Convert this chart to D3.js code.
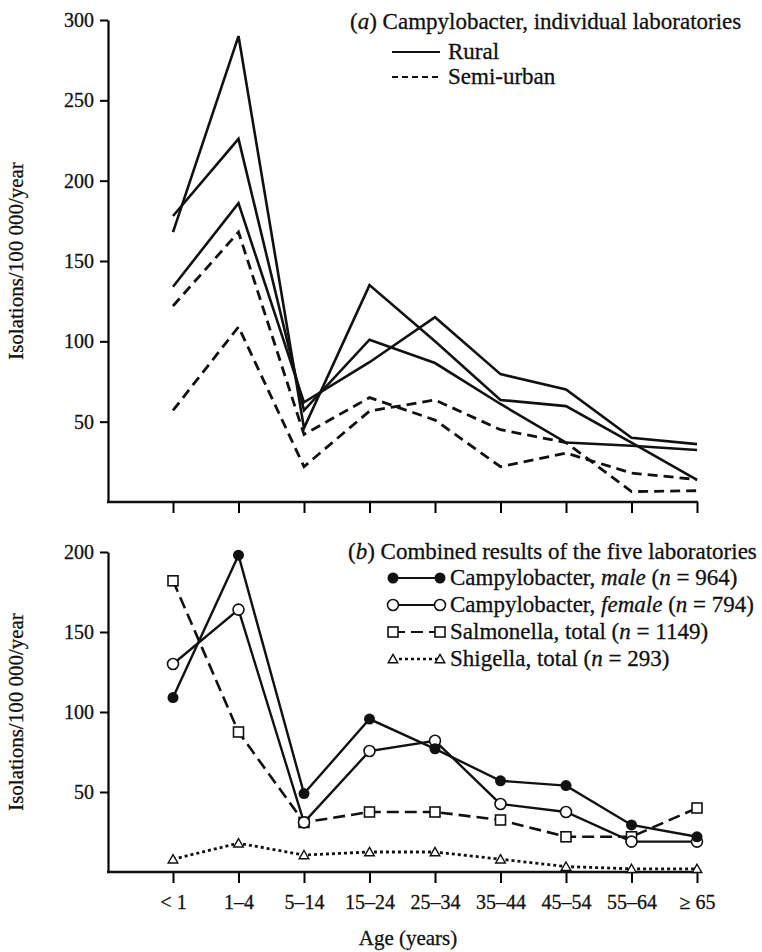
<!DOCTYPE html>
<html>
<head>
<meta charset="utf-8">
<script src="https://cdn.jsdelivr.net/npm/d3@7"></script>
<style>
  body { margin: 0; background: #fff; }
  text { font-family: "Liberation Serif", "Times New Roman", serif; fill: #111; stroke: #111; stroke-width: 0.3px; }
</style>
</head>
<body>
<div id="chart"></div>
<script>
const ageGroups = ["<1", "1-4", "5-14", "15-24", "25-34", "35-44", "45-54", "55-64", ">=65"];
const ageLabels = ["< 1", "1–4", "5–14", "15–24", "25–34", "35–44", "45–54", "55–64", "≥ 65"];

// (a) individual laboratories
const rural1 = [168, 290, 46, 135, 100, 63.5, 59.7, 37, 13.7];
const rural2 = [178, 226, 57, 101, 86.5, 61, 37, 35, 32.4];
const rural3 = [134, 186, 62, 87, 115, 79.6, 70, 40, 36];
const semiUrban1 = [122, 168, 42, 65, 51, 22, 30.5, 18, 14];
const semiUrban2 = [57, 109, 22, 56.6, 63.5, 45, 37, 6.5, 7];
const topTicks = [50, 100, 150, 200, 250, 300];

// (b) combined results
const campyMale = [109, 198, 49, 95.6, 77, 57, 54, 29.4, 22];
const campyFemale = [130, 164, 31, 75.6, 82, 42.5, 37.5, 19, 19];
const salmonella = [182, 87.5, 31, 37.5, 37.5, 32.5, 22, 22, 40];
const shigella = [8, 18, 10.6, 12.5, 12.5, 8, 3.4, 2, 2];
const bottomTicks = [50, 100, 150, 200];

const W = 762, H = 952;
const svg = d3.select("#chart").append("svg")
    .attr("width", W).attr("height", H)
    .style("background", "#fff");

const axisX0 = 108;
const x = d3.scalePoint().domain(ageGroups).range([173, 697]);
const yTop = d3.scaleLinear().domain([0, 300]).range([502, 20]);
const yBot = d3.scaleLinear().domain([0, 200]).range([872, 552]);

function drawAxes(yScale, ticks, showLabels) {
    const yAxis = svg.append("g")
        .attr("transform", `translate(${axisX0},0)`)
        .call(d3.axisLeft(yScale).tickValues(ticks).tickSize(8).tickSizeOuter(0).tickPadding(6));
    yAxis.select(".domain").attr("stroke-width", 2.2);
    yAxis.selectAll(".tick line").attr("stroke-width", 2);
    yAxis.selectAll("text")
        .attr("font-size", "20px")
        .style("font-family", "Liberation Serif");

    const y0 = yScale(0);
    svg.append("line")
        .attr("x1", axisX0 - 1).attr("x2", x(ageGroups[ageGroups.length - 1]) + 1)
        .attr("y1", y0).attr("y2", y0)
        .attr("stroke", "#111").attr("stroke-width", 2.4);

    const xAxis = svg.append("g")
        .attr("transform", `translate(0,${y0})`)
        .call(d3.axisBottom(x).tickSize(11).tickPadding(12)
            .tickFormat((d, i) => showLabels ? ageLabels[i] : ""));
    xAxis.select(".domain").remove();
    xAxis.selectAll(".tick line").attr("stroke-width", 2);
    xAxis.selectAll("text")
        .attr("font-size", "20px")
        .style("font-family", "Liberation Serif");

    svg.append("text")
        .attr("transform", `translate(23,${(yScale.range()[0] + yScale.range()[1]) / 2}) rotate(-90)`)
        .attr("text-anchor", "middle")
        .attr("font-size", "21px")
        .text("Isolations/100 000/year");
}

drawAxes(yTop, topTicks, false);
drawAxes(yBot, bottomTicks, true);

// ---- panel (a) lines
const lineTop = d3.line().x((d, i) => x(ageGroups[i])).y(d => yTop(d));
[rural1, rural2, rural3].forEach(s => {
    svg.append("path").datum(s).attr("d", lineTop)
        .attr("fill", "none").attr("stroke", "#111").attr("stroke-width", 2.6)
        .attr("stroke-linejoin", "miter");
});
[semiUrban1, semiUrban2].forEach(s => {
    svg.append("path").datum(s).attr("d", lineTop)
        .attr("fill", "none").attr("stroke", "#111").attr("stroke-width", 2.8)
        .attr("stroke-dasharray", "10,6");
});

// legend (a)
const legA = svg.append("g");
const titleA = legA.append("text").attr("x", 350).attr("y", 29).attr("font-size", "23px");
titleA.append("tspan").text("(");
titleA.append("tspan").attr("font-style", "italic").text("a");
titleA.append("tspan").text(")  Campylobacter, individual laboratories");
legA.append("line").attr("x1", 392).attr("x2", 440).attr("y1", 52).attr("y2", 52)
    .attr("stroke", "#111").attr("stroke-width", 1.8);
legA.append("text").attr("x", 448).attr("y", 59).attr("font-size", "23px").text("Rural");
legA.append("line").attr("x1", 392).attr("x2", 440).attr("y1", 77).attr("y2", 77)
    .attr("stroke", "#111").attr("stroke-width", 1.8).attr("stroke-dasharray", "6,4");
legA.append("text").attr("x", 448).attr("y", 84).attr("font-size", "23px").text("Semi-urban");

// ---- panel (b) lines
const lineBot = d3.line().x((d, i) => x(ageGroups[i])).y(d => yBot(d));
const seriesB = [
    { name: "male", data: campyMale, dash: null, width: 2.4, marker: "filled" },
    { name: "female", data: campyFemale, dash: null, width: 2.4, marker: "circle" },
    { name: "salmonella", data: salmonella, dash: "12,6", width: 2.6, marker: "square" },
    { name: "shigella", data: shigella, dash: "3,3", width: 2.8, marker: "triangle" }
];

function drawMarker(g, type, cx, cy) {
    if (type === "filled") {
        g.append("circle").attr("cx", cx).attr("cy", cy).attr("r", 5.5).attr("fill", "#111");
    } else if (type === "circle") {
        g.append("circle").attr("cx", cx).attr("cy", cy).attr("r", 5.5)
            .attr("fill", "#fff").attr("stroke", "#111").attr("stroke-width", 1.6);
    } else if (type === "square") {
        g.append("rect").attr("x", cx - 5).attr("y", cy - 5).attr("width", 10).attr("height", 10)
            .attr("fill", "#fff").attr("stroke", "#111").attr("stroke-width", 1.6);
    } else {
        g.append("path").attr("d", d3.symbol(d3.symbolTriangle, 40)())
            .attr("transform", `translate(${cx},${cy + 1})`)
            .attr("fill", "#fff").attr("stroke", "#111").attr("stroke-width", 1.4);
    }
}

seriesB.slice().reverse().forEach(s => {
    svg.append("path").datum(s.data).attr("d", lineBot)
        .attr("fill", "none").attr("stroke", "#111").attr("stroke-width", s.width)
        .attr("stroke-dasharray", s.dash);
});
seriesB.slice().reverse().forEach(s => {
    const g = svg.append("g");
    s.data.forEach((v, i) => drawMarker(g, s.marker, x(ageGroups[i]), yBot(v)));
});

// legend (b)
const legB = svg.append("g");
const titleB = legB.append("text").attr("x", 348).attr("y", 559).attr("font-size", "23px");
titleB.append("tspan").text("(");
titleB.append("tspan").attr("font-style", "italic").text("b");
titleB.append("tspan").text(")  Combined results of the five laboratories");

const legRows = [
    { y: 578, parts: [["Campylobacter, ", false], ["male", true], [" (", false], ["n", true], [" = 964)", false]] },
    { y: 605, parts: [["Campylobacter, ", false], ["female", true], [" (", false], ["n", true], [" = 794)", false]] },
    { y: 632, parts: [["Salmonella, total (", false], ["n", true], [" = 1149)", false]] },
    { y: 659, parts: [["Shigella, total (", false], ["n", true], [" = 293)", false]] }
];
legRows.forEach((r, i) => {
    const s = seriesB[i];
    legB.append("line").attr("x1", 393).attr("x2", 440).attr("y1", r.y).attr("y2", r.y)
        .attr("stroke", "#111").attr("stroke-width", s.width - 0.4)
        .attr("stroke-dasharray", s.dash);
    drawMarker(legB, s.marker, 393, r.y);
    drawMarker(legB, s.marker, 440, r.y);
    const t = legB.append("text").attr("x", 450).attr("y", r.y + 7).attr("font-size", "23px");
    r.parts.forEach(p => t.append("tspan").attr("font-style", p[1] ? "italic" : null).text(p[0]));
});

svg.append("text")
    .attr("x", 408).attr("y", 945)
    .attr("text-anchor", "middle")
    .attr("font-size", "21px")
    .text("Age (years)");
</script>
</body>
</html>
